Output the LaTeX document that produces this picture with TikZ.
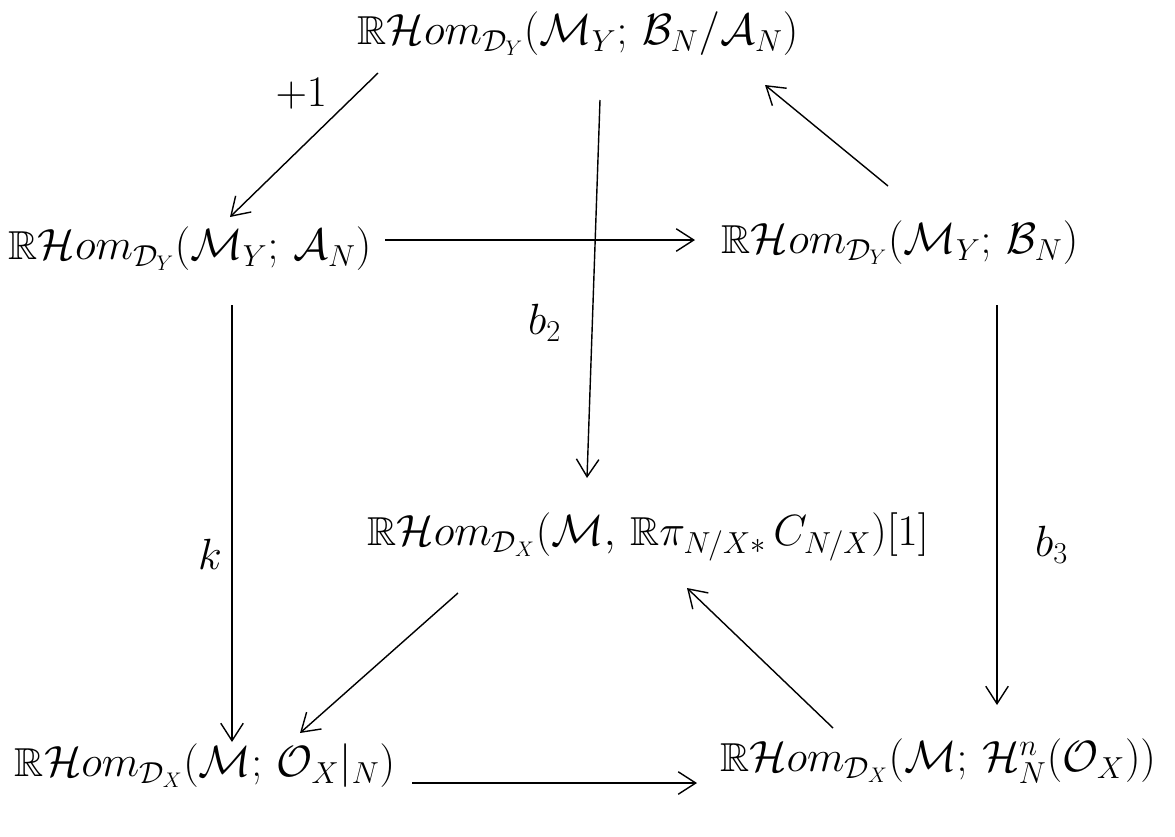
\documentclass[tikz,border=0pt]{standalone}
\usepackage{amsmath,amssymb}
\usetikzlibrary{arrows.meta}
\newcommand{\RHom}{\mathbb{R}\mathcal{H}om}
\begin{document}
\begin{tikzpicture}[x=0.02cm, y=-0.02cm,
    >={Straight Barb[length=3.5mm, width=4.5mm]},
    every node/.style={font=\fontsize{23}{28}\selectfont},
    arr/.style={->, thick}]

    \useasboundingbox (0,0) rectangle (1175,836);

    % 1. Các nút
    \node (top)   at (578,34)  {$\RHom_{\mathcal{D}_Y}(\mathcal{M}_Y;\, \mathcal{B}_N/\mathcal{A}_N)$};
    \node (left)  at (190,249) {$\RHom_{\mathcal{D}_Y}(\mathcal{M}_Y;\, \mathcal{A}_N)$};
    \node (right) at (900,243) {$\RHom_{\mathcal{D}_Y}(\mathcal{M}_Y;\, \mathcal{B}_N)$};
    \node (mid)   at (648,537) {$\RHom_{\mathcal{D}_X}(\mathcal{M},\, \mathbb{R}\pi_{N/X*}\, C_{N/X})[1]$};
    \node (bl)    at (205,766) {$\RHom_{\mathcal{D}_X}(\mathcal{M};\, \mathcal{O}_X|_N)$};
    \node (br)    at (938,761) {$\RHom_{\mathcal{D}_X}(\mathcal{M};\, \mathcal{H}^n_N(\mathcal{O}_X))$};

    % 2. Các mũi tên
    \draw[arr] ([shift={(-200,39)}]top.center) -- ([shift={(40,-32)}]left.center)
        node[pos=0.3, above left] {$+1$};
    \draw[arr] ([shift={(195,-9)}]left.center) -- ([shift={(-205,-3)}]right.center);
    \draw[arr] ([shift={(22,66)}]top.center) -- ([shift={(-61,-59)}]mid.center)
        node[pos=0.59, left=14pt] {$b_2$};
    \draw[arr] ([shift={(-12,-57)}]right.center) -- ([shift={(187,51)}]top.center);
    \draw[arr] ([shift={(42,56)}]left.center) -- ([shift={(27,-24)}]bl.center)
        node[pos=0.57, left=2pt] {$k$};
    \draw[arr] ([shift={(97,62)}]right.center) -- ([shift={(59,-56)}]br.center)
        node[pos=0.6, right=18pt] {$b_3$};
    \draw[arr] ([shift={(-190,56)}]mid.center) -- ([shift={(95,-33)}]bl.center);
    \draw[arr] ([shift={(-105,-33)}]br.center) -- ([shift={(39,51)}]mid.center);
    \draw[arr] ([shift={(207,17)}]bl.center) -- ([shift={(-241,22)}]br.center);

\end{tikzpicture}
\end{document}
